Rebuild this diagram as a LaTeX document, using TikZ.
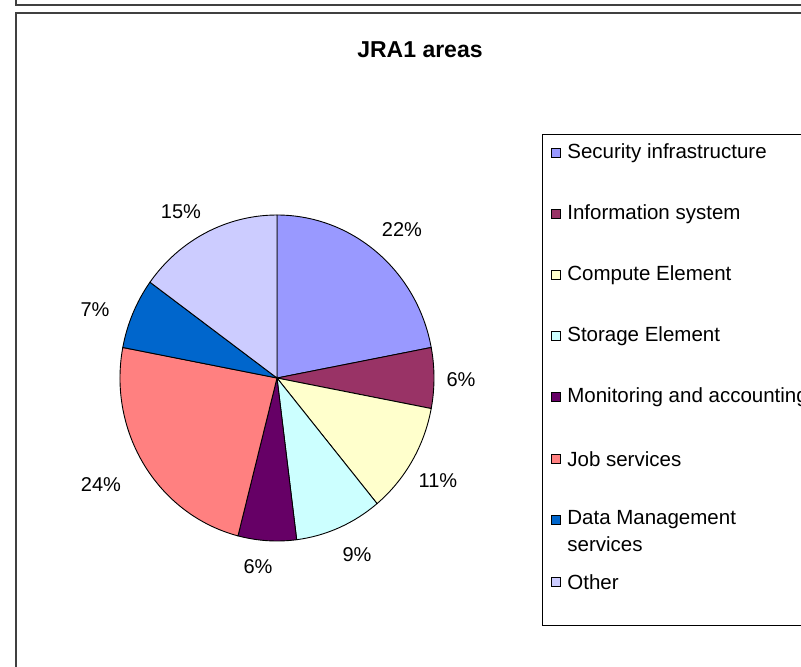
\documentclass[tikz,border=0pt]{standalone}
\usepackage{fontspec}
\setmainfont{Liberation Sans}
\usepackage{xcolor}
\usetikzlibrary{positioning}
\definecolor{secblue}{HTML}{9999FF}
\definecolor{infored}{HTML}{993366}
\definecolor{ceyellow}{HTML}{FFFFCC}
\definecolor{secyan}{HTML}{CCFFFF}
\definecolor{monpurple}{HTML}{660066}
\definecolor{jobsalmon}{HTML}{FF8080}
\definecolor{dmblue}{HTML}{0066CC}
\definecolor{otherlilac}{HTML}{CCCCFF}

\begin{document}
\begin{tikzpicture}[x=1pt, y=-1pt,
  pct/.style={font=\fontsize{20}{24}\selectfont, inner sep=0pt},
  entry/.style={font=\fontsize{20.5}{24}\selectfont, inner sep=0pt, anchor=west, align=left},
  keybox/.style={draw=black, line width=0.8pt, minimum size=9.5pt, inner sep=0pt},
  frameline/.style={draw=black!75, line width=1.6pt}]
\useasboundingbox (0,0) rectangle (801,667);
% frames %
\draw[frameline] (16,0) -- (16,5) -- (801,5);
\draw[frameline] (16,667) -- (16,13) -- (801,13);
\node[font=\bfseries\fontsize{23}{27}\selectfont, inner sep=0pt] (title) at (420,50) {JRA1 areas};
% pie %
\coordinate (c) at (277,378);
\begin{scope}[shift={(c)}, yscale=-1, line width=0.9pt]
\foreach \a/\b/\col in {90/10.8/secblue, 10.8/-10.8/infored, -10.8/-50.4/ceyellow,
  -50.4/-82.8/secyan, -82.8/-104.4/monpurple, -104.4/-190.8/jobsalmon,
  -190.8/-216/dmblue, -216/-270/otherlilac}
  \filldraw[fill=\col, draw=black] (0,0) -- (\a:157 and 163)
    arc[start angle=\a, end angle=\b, x radius=157, y radius=163] -- cycle;
\end{scope}
% labels %
\node[pct] (p1) at (402,230) {22\%};
\node[pct] (p2) at (461,380) {6\%};
\node[pct] (p3) at (438,481) {11\%};
\node[pct] (p4) at (357,555) {9\%};
\node[pct] (p5) at (258,567) {6\%};
\node[pct] (p6) at (101,485) {24\%};
\node[pct] (p7) at (95,310) {7\%};
\node[pct] (p8) at (181,212) {15\%};
% legend %
\draw[line width=0.9pt] (801,134) -- (542,134) -- (542,625) -- (801,625);
\node[keybox, fill=secblue] (k1) at (556,153) {};
\node[entry, right=6pt of k1] (l1) {Security infrastructure};
\node[keybox, fill=infored] (k2) at (556,214) {};
\node[entry, right=6pt of k2] (l2) {Information system};
\node[keybox, fill=ceyellow] (k3) at (556,275) {};
\node[entry, right=6pt of k3] (l3) {Compute Element};
\node[keybox, fill=secyan] (k4) at (556,336) {};
\node[entry, right=6pt of k4] (l4) {Storage Element};
\node[keybox, fill=monpurple] (k5) at (556,397) {};
\node[entry, right=6pt of k5] (l5) {Monitoring and accounting};
\node[keybox, fill=jobsalmon] (k6) at (556,459) {};
\node[entry, right=6pt of k6] (l6) {Job services};
\node[keybox, fill=dmblue] (k7) at (556,520) {};
\node[entry, right=6pt of k7, anchor=north west, yshift=10pt, font=\fontsize{20.5}{27}\selectfont] (l7) {Data Management\\services};
\node[keybox, fill=otherlilac] (k8) at (556,582) {};
\node[entry, right=6pt of k8] (l8) {Other};
\end{tikzpicture}
\end{document}
